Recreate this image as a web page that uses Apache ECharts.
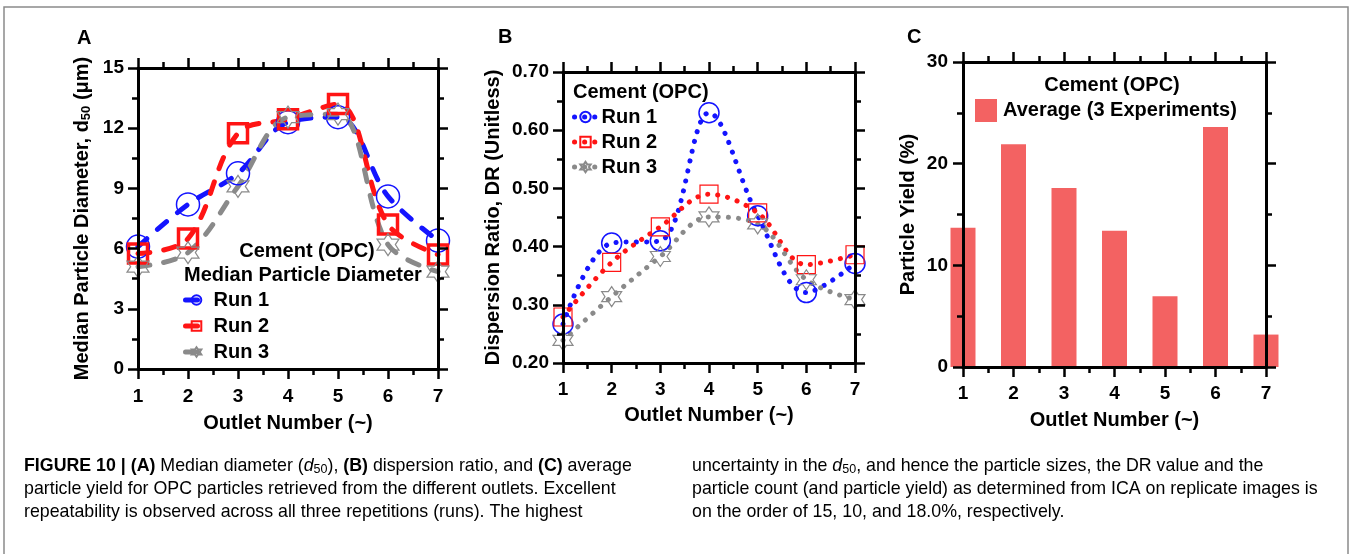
<!DOCTYPE html>
<html>
<head>
<meta charset="utf-8">
<script src="https://cdn.jsdelivr.net/npm/echarts@6/dist/echarts.min.js"></script>
<style>
html,body{margin:0;padding:0;background:#fff;}
#chart{width:1352px;height:554px;}
</style>
</head>
<body>
<div id="chart"></div>
<script>
// ---- Data ----
const outlets = [1, 2, 3, 4, 5, 6, 7];
// Panel A: median particle diameter d50 (µm)
const run1A = [6.1, 8.2, 9.75, 12.3, 12.55, 8.6, 6.4];
const run2A = [5.75, 6.5, 11.75, 12.45, 13.2, 7.2, 5.7];
const run3A = [5.1, 5.8, 9.1, 12.55, 12.7, 6.2, 4.85];
// Panel B: dispersion ratio DR
const run1B = [0.267, 0.406, 0.41, 0.63, 0.453, 0.321, 0.371];
const run2B = [0.279, 0.373, 0.434, 0.49, 0.458, 0.369, 0.386];
const run3B = [0.239, 0.314, 0.383, 0.451, 0.439, 0.343, 0.309];
// Panel C: particle yield (%)
const yieldC = [13.7, 21.9, 17.6, 13.4, 6.97, 23.6, 3.19];
// Tick settings
const yTicksA = {min: 0, max: 15, interval: 3};
const yTicksB = {min: 0.2, max: 0.7, interval: 0.1};
const yTicksC = {min: 0, max: 30, interval: 10};

const FONT = 'Liberation Sans, Arial, sans-serif';
const BLUE = '#1414ff', RED = '#ff1414', GRAY = '#8a8a8a';
const STAR = 'path://M50,0L64.43,25L93.3,25L78.87,50L93.3,75L64.43,75L50,100L35.57,75L6.7,75L21.13,50L6.7,25L35.57,25Z';

const pts = arr => outlets.map((x, i) => [x, arr[i]]);

function axisCommon(g) {
  return {
    gridIndex: g, type: 'value', z: 5,
    splitLine: {show: false},
    axisLine: {show: true, onZero: false, lineStyle: {color: '#000', width: 3}},
    axisTick: {show: true, inside: false, length: 10, lineStyle: {color: '#000', width: 2.5}},
    minorTick: {show: true, splitNumber: 2, length: 6, lineStyle: {color: '#000', width: 2.5}},
    minorSplitLine: {show: false}
  };
}
const labelStyle = {color: '#000', fontFamily: FONT, fontWeight: 'bold', fontSize: 19};
const nameStyle = {color: '#000', fontFamily: FONT, fontWeight: 'bold', fontSize: 20};

function xAxes(g, margin, gap) {
  const c = () => Object.assign(axisCommon(g), {min: 1, max: 7, interval: 1});
  return [
    Object.assign(c(), {position: 'bottom', axisLabel: Object.assign({margin: margin}, labelStyle),
      name: 'Outlet Number (~)', nameLocation: 'middle', nameGap: gap, nameTextStyle: nameStyle}),
    Object.assign(c(), {position: 'top', axisLabel: {show: false}})
  ];
}
function yAxes(g, ticks, margin, gap, name, fmt, rich) {
  const c = () => Object.assign(axisCommon(g), {min: ticks.min, max: ticks.max, interval: ticks.interval});
  const ns = Object.assign({}, nameStyle);
  if (rich) ns.rich = rich;
  return [
    Object.assign(c(), {position: 'left', axisLabel: Object.assign({margin: margin, formatter: fmt}, labelStyle),
      name: name, nameLocation: 'middle', nameGap: gap, nameTextStyle: ns}),
    Object.assign(c(), {position: 'right', axisLabel: {show: false}})
  ];
}

const subRich = {sub: {fontSize: 13, fontWeight: 'bold', fontFamily: FONT, color: '#000', padding: [9, 0, 0, 0]}};

function lineSeries(name, data, color, symbol, size, bw, xi, yi, lineType, lw) {
  return {
    type: 'line', name: name, data: data, xAxisIndex: xi, yAxisIndex: yi,
    smooth: 0.35, clip: false, color: color,
    symbol: symbol, symbolSize: size, showAllSymbol: true,
    lineStyle: {color: color, width: lw, type: lineType, cap: 'round'},
    itemStyle: {color: 'rgba(255,255,255,0)', borderColor: color, borderWidth: bw},
    emphasis: {disabled: true}, z: 2
  };
}

const dashA = [12, 14];
const dotB = [0.1, 10];
const legText = {color: '#000', fontFamily: FONT, fontWeight: 'bold', fontSize: 20};

const option = {
  animation: false,
  grid: [
    {left: 138, top: 68, width: 300, height: 301},
    {left: 563, top: 72, width: 292, height: 291},
    {left: 963, top: 62, width: 303, height: 305}
  ],
  xAxis: [].concat(xAxes(0, 18, 44), xAxes(1, 17, 42), xAxes(2, 17, 43)),
  yAxis: [].concat(
    yAxes(0, yTicksA, 14, 45, 'Median Particle Diameter, d{sub|50} (μm)', v => String(v), subRich),
    yAxes(1, yTicksB, 14, 60, 'Dispersion Ratio, DR (Unitless)', v => v.toFixed(2)),
    yAxes(2, yTicksC, 15, 45, 'Particle Yield (%)', v => String(v))
  ),
  legend: [
    {data: ['A Run 1', 'A Run 2', 'A Run 3'], orient: 'vertical', left: 183, top: 290, padding: 0, itemWidth: 22, itemHeight: 12, itemGap: 6,
     selectedMode: false, formatter: n => n.slice(2), lineStyle: {width: 5},
     textStyle: Object.assign({padding: [0, 0, 0, 1]}, legText)},
    {data: ['B Run 1', 'B Run 2', 'B Run 3'], orient: 'vertical', left: 572, top: 107, padding: 0, itemWidth: 22, itemHeight: 13, itemGap: 5,
     selectedMode: false, formatter: n => n.slice(2), lineStyle: {width: 5},
     textStyle: Object.assign({padding: [0, 0, 0, 0]}, legText)},
    {data: ['Average (3 Experiments)'], orient: 'vertical', left: 975, top: 99, padding: 0, itemWidth: 22, itemHeight: 23, icon: 'rect',
     selectedMode: false, textStyle: Object.assign({padding: [0, 0, 0, 1]}, legText)}
  ],
  series: [
    lineSeries('A Run 1', pts(run1A), BLUE, 'circle', 23, 1.5, 0, 0, dashA, 5),
    lineSeries('A Run 2', pts(run2A), RED, 'rect', 19, 3.5, 0, 0, dashA, 5),
    lineSeries('A Run 3', pts(run3A), GRAY, STAR, 22, 1.2, 0, 0, dashA, 5),
    lineSeries('B Run 1', pts(run1B), BLUE, 'circle', 20, 1.5, 2, 2, dotB, 5),
    lineSeries('B Run 2', pts(run2B), RED, 'rect', 18, 1.2, 2, 2, dotB, 5),
    lineSeries('B Run 3', pts(run3B), GRAY, STAR, 20, 1.2, 2, 2, dotB, 5),
    {type: 'bar', name: 'Average (3 Experiments)', data: pts(yieldC), xAxisIndex: 4, yAxisIndex: 4,
     barWidth: 25, clip: false, itemStyle: {color: '#f36262'}, emphasis: {disabled: true}, z: 2}
  ],
  graphic: [
    {type: 'polyline', shape: {points: [[4, 554], [4, 7], [1348, 7], [1348, 554]]}, style: {stroke: '#8a8a8a', lineWidth: 1.5, fill: null}, silent: true},
    {type: 'text', x: 77, y: 38, style: {text: 'A', font: 'bold 20px ' + FONT, fill: '#000', verticalAlign: 'middle'}},
    {type: 'text', x: 498, y: 37, style: {text: 'B', font: 'bold 20px ' + FONT, fill: '#000', verticalAlign: 'middle'}},
    {type: 'text', x: 907, y: 37, style: {text: 'C', font: 'bold 20px ' + FONT, fill: '#000', verticalAlign: 'middle'}},
    {type: 'text', x: 307, y: 251, style: {text: 'Cement (OPC)', font: 'bold 20px ' + FONT, fill: '#000', align: 'center', verticalAlign: 'middle'}},
    {type: 'text', x: 184, y: 275, style: {text: 'Median Particle Diameter', font: 'bold 20px ' + FONT, fill: '#000', verticalAlign: 'middle'}},
    {type: 'text', x: 573, y: 92, style: {text: 'Cement (OPC)', font: 'bold 20px ' + FONT, fill: '#000', verticalAlign: 'middle'}},
    {type: 'text', x: 1112, y: 85, style: {text: 'Cement (OPC)', font: 'bold 20px ' + FONT, fill: '#000', align: 'center', verticalAlign: 'middle'}}
  ]
};

// caption
const capFont = FONT;
const CS = 17.8;
const capRich = {
  n: {fontFamily: capFont, fontSize: CS, color: '#222'},
  b: {fontFamily: capFont, fontSize: CS, fontWeight: 'bold', color: '#222'},
  i: {fontFamily: capFont, fontSize: CS, fontStyle: 'italic', color: '#222'},
  s: {fontFamily: capFont, fontSize: 12.5, color: '#222', padding: [8, 0, 0, 0]}
};
const capLeft = [
  '{b|FIGURE 10 | (A)}{n| Median diameter (}{i|d}{s|50}{n|), }{b|(B)}{n| dispersion ratio, and }{b|(C)}{n| average}',
  '{n|particle yield for OPC particles retrieved from the different outlets. Excellent}',
  '{n|repeatability is observed across all three repetitions (runs). The highest}'
];
const capRight = [
  '{n|uncertainty in the }{i|d}{s|50}{n|, and hence the particle sizes, the DR value and the}',
  '{n|particle count (and particle yield) as determined from ICA on replicate images is}',
  '{n|on the order of 15, 10, and 18.0%, respectively.}'
];
const capY = [466, 489, 512];
capLeft.forEach((t, i) => option.graphic.push({type: 'text', x: 24, y: capY[i], style: {text: t, rich: capRich, verticalAlign: 'middle'}}));
capRight.forEach((t, i) => option.graphic.push({type: 'text', x: 692, y: capY[i], style: {text: t, rich: capRich, verticalAlign: 'middle'}}));

const chart = echarts.init(document.getElementById('chart'), null, {renderer: 'canvas'});
chart.setOption(option);
</script>
</body>
</html>
